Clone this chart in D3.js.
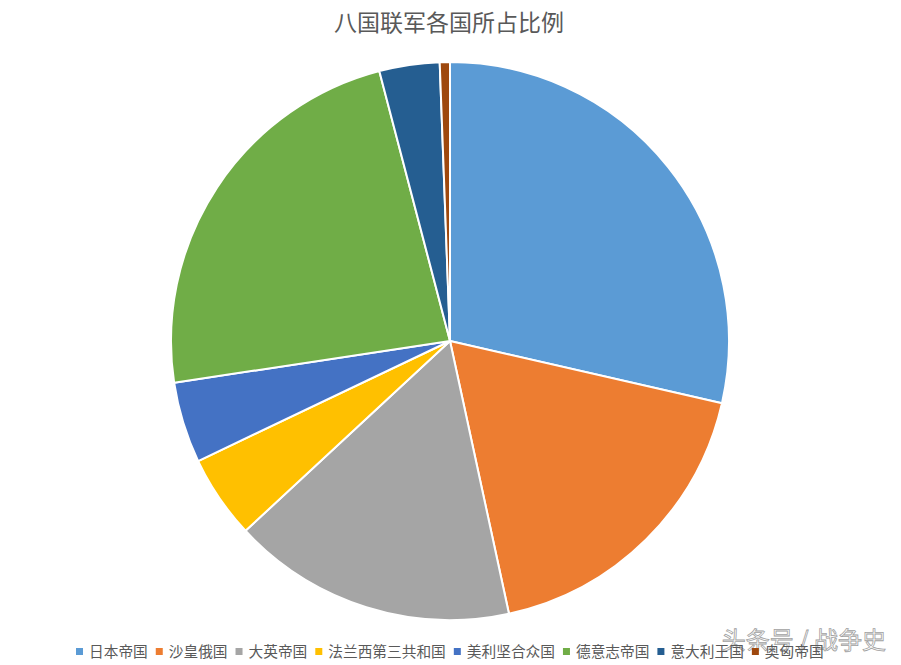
<!DOCTYPE html>
<html><head><meta charset="utf-8">
<script src="https://cdn.jsdelivr.net/npm/d3@7"></script>
<style>body{margin:0;background:#fff;}svg{display:block;}</style>
</head><body>
<svg id="c" width="901" height="665"></svg>
<script>
const categories = ["日本帝国","沙皇俄国","大英帝国","法兰西第三共和国","美利坚合众国","德意志帝国","意大利王国","奥匈帝国"];
const values = [20840, 13150, 12020, 3520, 3420, 17000, 2545, 429];
const colors = ["#5B9BD5","#ED7D31","#A5A5A5","#FFC000","#4472C4","#70AD47","#255E91","#9E480E"];
const title = "八国联军各国所占比例";

const svg = d3.select("#c");
const font = "'Noto Sans CJK SC','Microsoft YaHei',sans-serif";
svg.append("text").attr("x",449).attr("y",31).attr("text-anchor","middle")
  .attr("font-family",font).attr("font-size",23).attr("fill","#595959").text(title);

const data = categories.map((c,i)=>({name:c,value:values[i],color:colors[i]}));
const pie = d3.pie().sort(null).value(d=>d.value);
const arc = d3.arc().innerRadius(0).outerRadius(279);
const g = svg.append("g").attr("transform","translate(450,341)");
g.selectAll("path").data(pie(data)).join("path")
  .attr("d",arc).attr("fill",d=>d.data.color)
  .attr("stroke","#fff").attr("stroke-width",2).attr("stroke-linejoin","round");

// watermark (behind legend, as in reference)
svg.append("text").attr("x",886).attr("y",649).attr("text-anchor","end")
  .attr("font-family",font).attr("font-size",24).attr("fill","#fff")
  .attr("stroke","#a0a0a0").attr("stroke-width",0.8).text("头条号 / 战争史");

// legend
const lg = svg.append("g").attr("font-family",font).attr("font-size",14.7).attr("fill","#595959");
let x = 76;
data.forEach(d=>{
  lg.append("rect").attr("x",x).attr("y",648).attr("width",7).attr("height",7).attr("fill",d.color);
  const t = lg.append("text").attr("x",x+13).attr("y",657).text(d.name);
  const w = t.node().getComputedTextLength();
  x += 13 + w + 8;
});
</script>
</body></html>
